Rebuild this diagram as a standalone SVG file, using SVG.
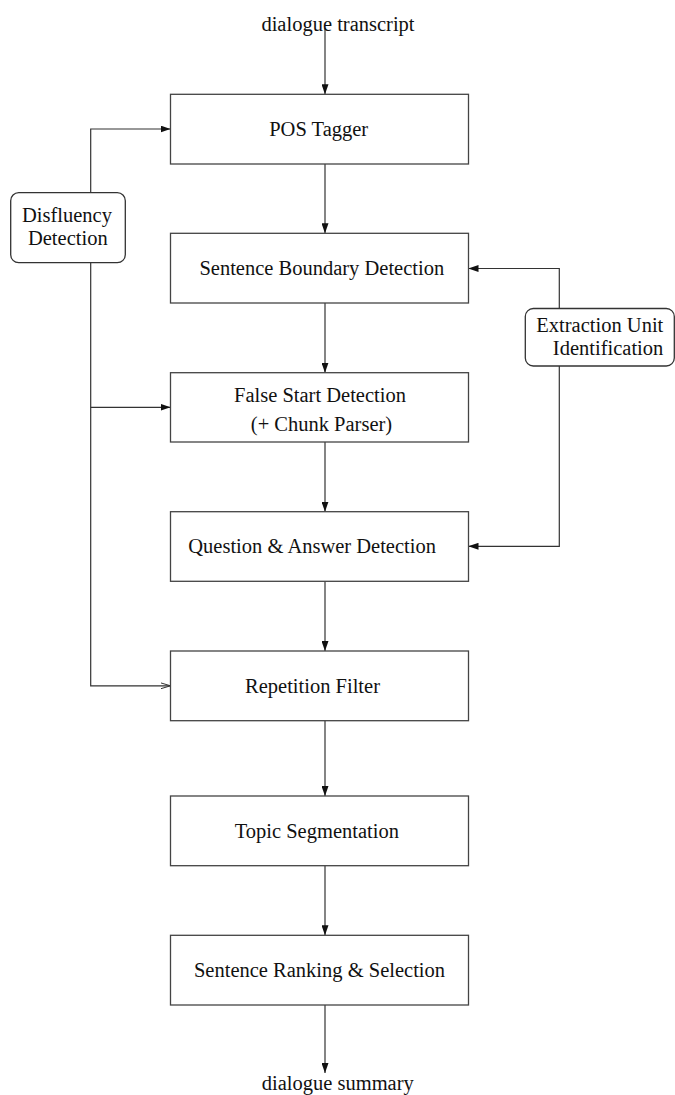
<svg xmlns="http://www.w3.org/2000/svg" width="675" height="1095" viewBox="0 0 675 1095">
<style>
.box{fill:#fff;stroke:#444;stroke-width:1.3}
.rbox{fill:#fff;stroke:#333;stroke-width:1.3}
.t{font-family:"Liberation Serif","Times New Roman",serif;font-size:20.5px;fill:#111}
.c{text-anchor:middle}
.ln{fill:none;stroke:#333;stroke-width:1.2}
</style>
<defs>
<marker id="ah" viewBox="0 0 10 7" refX="10" refY="3.5" markerWidth="10" markerHeight="7" markerUnits="userSpaceOnUse" orient="auto">
<path d="M0,0 L10,3.5 L0,7 Z" fill="#111"/>
</marker>
<marker id="oh" viewBox="0 0 10 7" refX="10" refY="3.5" markerWidth="10" markerHeight="7" markerUnits="userSpaceOnUse" orient="auto">
<path d="M0,0.5 L10,3.5 L0,6.5" fill="none" stroke="#333" stroke-width="1"/>
</marker>
</defs>
<rect width="675" height="1095" fill="#fff"/>
<g id="connectors">
<line class="ln" x1="325" y1="28" x2="325" y2="94.3" marker-end="url(#ah)"/>
<line class="ln" x1="325" y1="164" x2="325" y2="233.3" marker-end="url(#ah)"/>
<line class="ln" x1="325" y1="303" x2="325" y2="372.7" marker-end="url(#ah)"/>
<line class="ln" x1="325" y1="442" x2="325" y2="511.7" marker-end="url(#ah)"/>
<line class="ln" x1="325" y1="581.3" x2="325" y2="651" marker-end="url(#ah)"/>
<line class="ln" x1="325" y1="720.7" x2="325" y2="796" marker-end="url(#ah)"/>
<line class="ln" x1="325" y1="865.7" x2="325" y2="935.3" marker-end="url(#ah)"/>
<line class="ln" x1="325" y1="1005" x2="325" y2="1073" marker-end="url(#ah)"/>
<polyline class="ln" points="90.7,192.7 90.7,129 170.5,129" marker-end="url(#ah)"/>
<polyline class="ln" points="90.7,262.7 90.7,685.8 170.5,685.8" marker-end="url(#oh)"/>
<line class="ln" x1="90.7" y1="407.3" x2="170.5" y2="407.3" marker-end="url(#ah)"/>
<polyline class="ln" points="559.3,308.5 559.3,268.5 468.5,268.5" marker-end="url(#ah)"/>
<polyline class="ln" points="559.3,366 559.3,546.3 468.5,546.3" marker-end="url(#ah)"/>
</g>
<g id="input"><text class="t c" x="338" y="31">dialogue transcript</text></g>
<g id="pos"><rect class="box" x="170.5" y="94.3" width="298" height="69.7"/><text class="t c" x="318.7" y="136">POS Tagger</text></g>
<g id="sbd"><rect class="box" x="170.5" y="233.3" width="298" height="69.7"/><text class="t c" x="321.8" y="275">Sentence Boundary Detection</text></g>
<g id="fsd"><rect class="box" x="170.5" y="372.7" width="298" height="69.3"/><text class="t c" x="320" y="402">False Start Detection</text><text class="t c" x="321.5" y="431">(+ Chunk Parser)</text></g>
<g id="qa"><rect class="box" x="170.5" y="511.7" width="298" height="69.6"/><text class="t" x="188.3" y="553">Question &amp; Answer Detection</text></g>
<g id="rep"><rect class="box" x="170.5" y="651" width="298" height="69.7"/><text class="t c" x="312.5" y="692.5">Repetition Filter</text></g>
<g id="topic"><rect class="box" x="170.5" y="796" width="298" height="69.7"/><text class="t c" x="316.8" y="837.5">Topic Segmentation</text></g>
<g id="rank"><rect class="box" x="170.5" y="935.3" width="298" height="69.7"/><text class="t c" x="319.5" y="976.5">Sentence Ranking &amp; Selection</text></g>
<g id="output"><text class="t c" x="337.8" y="1090">dialogue summary</text></g>
<g id="disfluency"><rect class="rbox" x="10.7" y="192.7" width="114.6" height="70" rx="8" ry="8"/><text class="t c" x="67" y="222">Disfluency</text><text class="t c" x="67.8" y="244.5">Detection</text></g>
<g id="extraction"><rect class="rbox" x="525.3" y="308.5" width="149" height="57.5" rx="8" ry="8"/><text class="t" x="663.3" y="332" text-anchor="end">Extraction Unit</text><text class="t" x="663.3" y="355" text-anchor="end">Identification</text></g>
</svg>
